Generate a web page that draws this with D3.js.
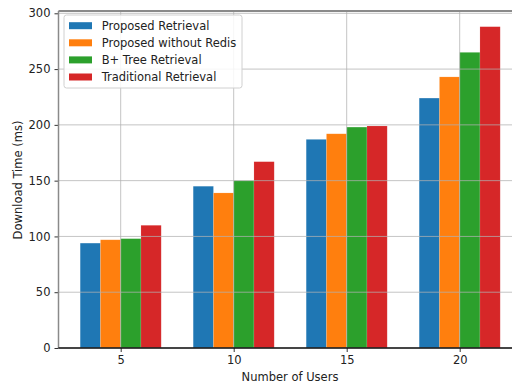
<!DOCTYPE html>
<html>
<head>
<meta charset="utf-8">
<script src="https://cdn.jsdelivr.net/npm/d3@7"></script>
<style>
  html, body { margin: 0; padding: 0; background: #fff; }
  svg { display: block; font-family: "DejaVu Sans", sans-serif; }
</style>
</head>
<body>
<svg id="chart" width="512" height="386"></svg>
<script>
// Number of concurrent users on the x axis
const users = [5, 10, 15, 20];

// Download time (ms) for each retrieval approach
const seriesNames = ["Proposed Retrieval", "Proposed without Redis", "B+ Tree Retrieval", "Traditional Retrieval"];
const proposed = [94, 145, 187, 224];
const withoutRedis = [97, 139, 192, 243];
const bPlusTree = [98, 150, 198, 265];
const traditional = [110, 167, 199, 288];
const yTicks = [0, 50, 100, 150, 200, 250, 300];
const colors = ["#1f77b4", "#ff7f0e", "#2ca02c", "#d62728"];

const values = [proposed, withoutRedis, bPlusTree, traditional];

const svg = d3.select("#chart");
const plot = { left: 58.5, right: 530, top: 11, bottom: 348 };
const fontSize = 11.5;

const x = d3.scaleLinear().domain([5, 20]).range([120.7, 459.7]);
const y = d3.scaleLinear().domain([0, 300]).range([348, 13.3]);
const inner = d3.scaleBand().domain(d3.range(seriesNames.length)).range([-40.5, 40.5]).padding(0);

// Bars
const groups = svg.append("g").selectAll("g")
  .data(users)
  .join("g")
  .attr("transform", d => `translate(${x(d)},0)`);

groups.selectAll("rect")
  .data((d, i) => values.map((s, k) => ({ k, v: s[i] })))
  .join("rect")
  .attr("x", d => inner(d.k))
  .attr("width", inner.bandwidth())
  .attr("y", d => y(d.v))
  .attr("height", d => y(0) - y(d.v))
  .attr("fill", d => colors[d.k])
  .attr("stroke", "#ffffff")
  .attr("stroke-opacity", 0.2)
  .attr("stroke-width", 0.6);

// Grid lines drawn on top of bars
const grid = svg.append("g").attr("stroke", "#b0b0b0").attr("stroke-opacity", 0.75).attr("stroke-width", 1);
grid.selectAll(".hg").data(yTicks).join("line")
  .attr("x1", plot.left).attr("x2", plot.right)
  .attr("y1", d => y(d)).attr("y2", d => y(d));
grid.selectAll(".vg").data(users).join("line")
  .attr("x1", d => x(d)).attr("x2", d => x(d))
  .attr("y1", plot.top).attr("y2", plot.bottom);

// Axes
const yAxis = d3.axisLeft(y).tickValues(yTicks).tickSize(4).tickPadding(4);
const yg = svg.append("g").attr("transform", `translate(${plot.left},0)`).call(yAxis);
yg.select(".domain").remove();
yg.selectAll("text").attr("font-size", fontSize).attr("fill", "#222").attr("font-family", "DejaVu Sans");
yg.selectAll("line").attr("stroke", "#333");

const xAxis = d3.axisBottom(x).tickValues(users).tickSize(4).tickPadding(4);
const xg = svg.append("g").attr("transform", `translate(0,${plot.bottom})`).call(xAxis);
xg.select(".domain").remove();
xg.selectAll("text").attr("font-size", fontSize).attr("fill", "#222").attr("font-family", "DejaVu Sans");
xg.selectAll("line").attr("stroke", "#333");

// Spines
svg.append("line").attr("x1", plot.left).attr("x2", plot.right).attr("y1", plot.top).attr("y2", plot.top)
  .attr("stroke", "#8a8a8a").attr("stroke-width", 2);
svg.append("line").attr("x1", plot.left).attr("x2", plot.left).attr("y1", plot.top).attr("y2", plot.bottom)
  .attr("stroke", "#8a8a8a").attr("stroke-width", 1.5);
svg.append("line").attr("x1", plot.left).attr("x2", plot.right).attr("y1", plot.bottom).attr("y2", plot.bottom)
  .attr("stroke", "#111").attr("stroke-width", 1.3);

// Axis titles
svg.append("text")
  .attr("x", 290).attr("y", 381)
  .attr("text-anchor", "middle").attr("font-size", fontSize).attr("fill", "#222")
  .text("Number of Users");
svg.append("text")
  .attr("transform", "translate(22,180) rotate(-90)")
  .attr("text-anchor", "middle").attr("font-size", fontSize).attr("fill", "#222")
  .text("Download Time (ms)");

// Legend
const legend = svg.append("g").attr("transform", "translate(64,15)");
legend.append("rect")
  .attr("width", 178).attr("height", 73).attr("rx", 2.5)
  .attr("fill", "#fff").attr("fill-opacity", 0.85)
  .attr("stroke", "#d0d0d0").attr("stroke-width", 1);
const items = legend.selectAll(".item").data(seriesNames).join("g")
  .attr("transform", (d, i) => `translate(5,${10.7 + i * 17.1})`);
items.append("rect").attr("x", 0).attr("y", -3.5).attr("width", 23).attr("height", 7)
  .attr("fill", (d, i) => colors[i]);
items.append("text").attr("x", 32.7).attr("y", 4.2)
  .attr("font-size", fontSize).attr("fill", "#222")
  .text(d => d);
</script>
</body>
</html>
